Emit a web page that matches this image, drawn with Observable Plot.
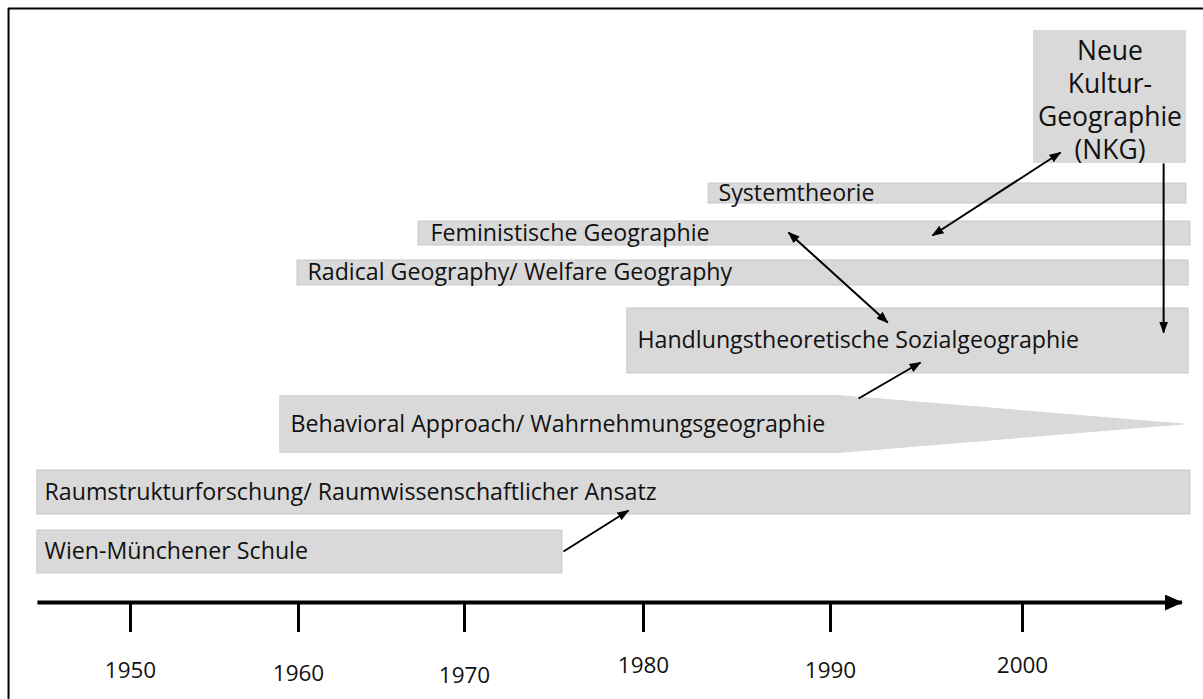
<!DOCTYPE html>
<html>
<head>
<meta charset="utf-8">
<script src="https://cdn.jsdelivr.net/npm/d3@7"></script>
<script src="https://cdn.jsdelivr.net/npm/@observablehq/plot@0.6"></script>
<style>
  html, body { margin: 0; padding: 0; background: #ffffff; }
  #chart svg { display: block; }
</style>
</head>
<body>
<div id="chart"></div>
<script>
// ---- Timeline data (years on x; vertical "level" units on y, axis at 0) ----
const tickYears = [1950, 1960, 1970, 1980, 1990, 2000];
const tickLabels = ["1950", "1960", "1970", "1980", "1990", "2000"];
const tickLabelLevel = [-6.8, -7.1, -7.3, -6.3, -6.8, -6.3];
// hand-drawn axis: uneven spacing of the decade ticks (scale range)
const tickPixels = [130, 298, 464, 643, 830, 1022];

const barNames = [
  "Wien-Münchener Schule",
  "Raumstrukturforschung/ Raumwissenschaftlicher Ansatz",
  "Handlungstheoretische Sozialgeographie",
  "Radical Geography/ Welfare Geography",
  "Feministische Geographie",
  "Systemtheorie"
];
const barStart = [1944.46, 1944.46, 1979.1, 1959.94, 1967.23, 1983.48];
const barEnd   = [1975.47, 2008.75, 2008.65, 2008.65, 2008.75, 2008.54];
const barLow   = [2.9, 8.8, 22.9, 31.7, 35.7, 39.9];
const barHigh  = [7.2, 13.2, 29.4, 34.2, 38.1, 41.9];
const labelStart = [1944.88, 1944.88, 1979.66, 1960.54, 1967.95, 1984.01];

// tapered "Behavioral Approach" band
const behavName = "Behavioral Approach/ Wahrnehmungsgeographie";
const behavX    = [1958.87, 1990.42, 2008.7];
const behavLow  = [14.9, 14.9, 17.8];
const behavHigh = [20.7, 20.7, 17.8];
const behavLabelX = 1959.52;

// box "Neue Kultur-Geographie"
const nkgName = "Neue\nKultur-\nGeographie\n(NKG)";
const nkgStart = 2000.57, nkgEnd = 2008.54, nkgLow = 43.9, nkgHigh = 57.2;
const nkgLabelLevel = 50.35;

// influence arrows
const arrowX1 = [1975.53, 1991.46, 2007.35];
const arrowY1 = [5.1, 20.4, 43.9];
const arrowX2 = [1979.16, 1994.69, 2007.35];
const arrowY2 = [9.2, 24.0, 27.0];
// double-headed arrows
const dArrowX1 = [1987.75, 1995.31];
const dArrowY1 = [37.0, 36.7];
const dArrowX2 = [1992.98, 2001.98];
const dArrowY2 = [28.0, 45.0];

// axis & frame extents
const axisStart = 1944.46, axisEnd = 2008.9;
const tickLength = -3.0;
const frameLeft = 1942.74, frameRight = 2009.6, frameTop = 59.4, frameBottom = -9.7;

// ---- build tables ----
const bars = barNames.map((name, i) => ({
  name, x1: barStart[i], x2: barEnd[i], y1: barLow[i], y2: barHigh[i],
  lx: labelStart[i], ly: (barLow[i] + barHigh[i]) / 2
}));
const behav = behavX.map((x, i) => ({x, y1: behavLow[i], y2: behavHigh[i]}));
const arrows = arrowX1.map((x1, i) => ({x1, y1: arrowY1[i], x2: arrowX2[i], y2: arrowY2[i]}));
const dArrows = dArrowX1.map((x1, i) => ({x1, y1: dArrowY1[i], x2: dArrowX2[i], y2: dArrowY2[i]}));
const ticks = tickYears.map((x, i) => ({x, label: tickLabels[i], ly: tickLabelLevel[i]}));

const FONT = "'Open Sans', Lato, sans-serif";
const GREY = "#d9d9d9";
const INK = "#111";

const svg = Plot.plot({
  width: 1203,
  height: 699,
  marginTop: 0, marginRight: 0, marginBottom: 0, marginLeft: 0,
  style: {fontFamily: FONT, background: "#ffffff", overflow: "visible"},
  x: {type: "linear", domain: tickYears, range: tickPixels, axis: null},
  y: {type: "linear", domain: [-9.7, 60.2], axis: null},
  marks: [
    // frame (top and left edges)
    Plot.ruleY([frameTop], {x1: frameLeft, x2: frameRight, stroke: "#000", strokeWidth: 2}),
    Plot.ruleX([frameLeft], {y1: frameBottom, y2: frameTop, stroke: "#000", strokeWidth: 2}),
    // bars
    Plot.rect(bars, {x1: "x1", x2: "x2", y1: "y1", y2: "y2", fill: GREY, stroke: "#c9c9c9", strokeWidth: 1}),
    Plot.rect([0], {x1: nkgStart, x2: nkgEnd, y1: nkgLow, y2: nkgHigh, fill: GREY}),
    Plot.areaY(behav, {x: "x", y1: "y1", y2: "y2", fill: GREY, curve: "linear"}),
    // labels
    Plot.text(bars, {x: "lx", y: "ly", text: "name", textAnchor: "start", fontSize: 23.2, fill: INK}),
    Plot.text([behavName], {x: behavLabelX, y: (behavLow[0] + behavHigh[0]) / 2, text: d => d, textAnchor: "start", fontSize: 23.2, fill: INK}),
    Plot.text([nkgName], {x: (nkgStart + nkgEnd) / 2, y: nkgLabelLevel, text: d => d, textAnchor: "middle", fontSize: 26.5, lineHeight: 1.25, fill: INK}),
    // arrows
    Plot.link(arrows, {x1: "x1", y1: "y1", x2: "x2", y2: "y2", stroke: "#000", strokeWidth: 2, ariaDescription: "single"}),
    Plot.link(dArrows, {x1: "x1", y1: "y1", x2: "x2", y2: "y2", stroke: "#000", strokeWidth: 2, ariaDescription: "double"}),
    // time axis
    Plot.link([0], {x1: axisStart, x2: axisEnd - 0.6, y1: 0, y2: 0, stroke: "#000", strokeWidth: 4, ariaDescription: "axis"}),
    Plot.ruleX(ticks, {x: "x", y1: 0, y2: tickLength, stroke: "#000", strokeWidth: 3}),
    Plot.text(ticks, {x: "x", y: "ly", text: "label", fontSize: 22.5, fill: INK})
  ]
});

// filled arrowheads
const root = d3.select(svg);
const defs = root.insert("defs", ":first-child");
function addMarker(id, w, h) {
  defs.append("marker")
    .attr("id", id)
    .attr("viewBox", `0 0 ${w} ${h}`)
    .attr("markerWidth", w).attr("markerHeight", h)
    .attr("refX", w - 1).attr("refY", h / 2)
    .attr("markerUnits", "userSpaceOnUse")
    .attr("orient", "auto-start-reverse")
    .append("path")
    .attr("d", `M0,0L${w},${h / 2}L0,${h}Z`)
    .attr("fill", "#000");
}
addMarker("head-small", 12, 9);
addMarker("head-axis", 18, 16);
root.selectAll('g[aria-description="single"] path').attr("marker-end", "url(#head-small)");
root.selectAll('g[aria-description="double"] path')
  .attr("marker-end", "url(#head-small)")
  .attr("marker-start", "url(#head-small)");
root.selectAll('g[aria-description="axis"] path').attr("marker-end", "url(#head-axis)");

document.getElementById("chart").appendChild(svg);
</script>
</body>
</html>
